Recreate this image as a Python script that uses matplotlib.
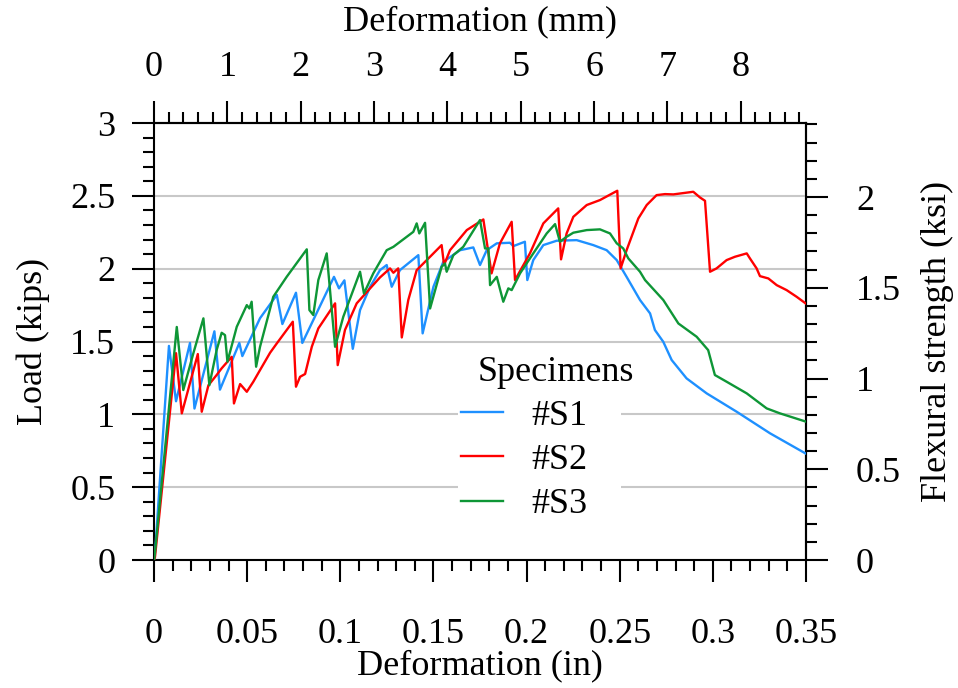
import matplotlib
matplotlib.use("Agg")
import matplotlib.pyplot as plt
from matplotlib.ticker import MultipleLocator

# load vs. deformation for three specimens (in, kips)
s1_x = [0.0, 0.0008, 0.008, 0.0118, 0.0193, 0.0217, 0.0324, 0.0354, 0.0458, 0.0474,
        0.0569, 0.0659, 0.0689, 0.0762, 0.0796, 0.0966, 0.0993, 0.1022, 0.1067, 0.1106,
        0.116, 0.1213, 0.1249, 0.1276, 0.132, 0.1419, 0.1442, 0.150, 0.1553, 0.1643,
        0.1714, 0.175, 0.1786, 0.184, 0.1911, 0.1929, 0.1991, 0.2004, 0.2036, 0.209,
        0.2162, 0.2269, 0.2358, 0.243, 0.2484, 0.2537, 0.2609, 0.2663, 0.2689, 0.2734,
        0.2779, 0.2859, 0.2967, 0.3128, 0.3307, 0.35]
s1_y = [0.02, 0.10, 1.47, 1.09, 1.49, 1.04, 1.57, 1.17, 1.49, 1.40,
        1.66, 1.82, 1.62, 1.835, 1.49, 1.944, 1.865, 1.92, 1.45, 1.716,
        1.876, 1.99, 2.025, 1.876, 1.99, 2.093, 1.556, 1.876, 2.047, 2.127,
        2.146, 2.025, 2.127, 2.174, 2.178, 2.155, 2.185, 1.922, 2.059, 2.162,
        2.192, 2.196, 2.162, 2.127, 2.059, 1.944, 1.785, 1.693, 1.579, 1.498,
        1.373, 1.247, 1.144, 1.018, 0.870, 0.73]

s2_x = [0.0, 0.0005, 0.0118, 0.0149, 0.0235, 0.0256, 0.0292, 0.0336, 0.0363, 0.0417,
        0.0429, 0.0462, 0.0498, 0.0533, 0.0569, 0.0623, 0.0659, 0.0745, 0.0762, 0.0784,
        0.0811, 0.0847, 0.0882, 0.0972, 0.0986, 0.1025, 0.1088, 0.116, 0.1213, 0.1267,
        0.1285, 0.1311, 0.133, 0.1365, 0.141, 0.1482, 0.1544, 0.1557, 0.1589, 0.1679,
        0.1768, 0.1812, 0.1857, 0.192, 0.1938, 0.2018, 0.209, 0.217, 0.2185, 0.2215,
        0.2251, 0.2323, 0.2394, 0.2487, 0.2505, 0.2537, 0.260, 0.2645, 0.2698, 0.2743,
        0.2788, 0.2895, 0.2931, 0.2958, 0.2985, 0.302, 0.3074, 0.3119, 0.3182, 0.3199,
        0.3235, 0.3253, 0.3298, 0.3343, 0.3396, 0.345, 0.35]
s2_y = [0.0, 0.02, 1.42, 1.007, 1.414, 1.018, 1.20, 1.27, 1.316, 1.395,
        1.075, 1.208, 1.155, 1.224, 1.304, 1.423, 1.487, 1.636, 1.19, 1.258,
        1.277, 1.464, 1.59, 1.762, 1.338, 1.579, 1.762, 1.865, 1.94, 2.002,
        1.972, 2.002, 1.528, 1.785, 1.99, 2.082, 2.162, 2.025, 2.127, 2.265,
        2.338, 1.968, 2.174, 2.322, 1.922, 2.105, 2.311, 2.414, 2.064, 2.242,
        2.356, 2.437, 2.471, 2.535, 2.002, 2.127, 2.345, 2.437, 2.505, 2.512,
        2.51, 2.528, 2.489, 2.466, 1.979, 2.002, 2.059, 2.082, 2.105, 2.071,
        2.002, 1.949, 1.933, 1.887, 1.853, 1.807, 1.76]

s3_x = [0.0, 0.0005, 0.0122, 0.0157, 0.0211, 0.0265, 0.0297, 0.0336, 0.0363, 0.0381,
        0.0394, 0.0444, 0.0498, 0.0512, 0.0524, 0.0548, 0.0569, 0.064, 0.0712, 0.082,
        0.0834, 0.0855, 0.0882, 0.0927, 0.0972, 0.1016, 0.1106, 0.1127, 0.1177, 0.1249,
        0.1285, 0.1392, 0.141, 0.1424, 0.1455, 0.1482, 0.1544, 0.1562, 0.1571, 0.1607,
        0.166, 0.175, 0.1777, 0.1795, 0.1804, 0.184, 0.1875, 0.1902, 0.192, 0.1965,
        0.2036, 0.2108, 0.2153, 0.2179, 0.2215, 0.2251, 0.2323, 0.2394, 0.2448, 0.2484,
        0.2519, 0.2546, 0.2609, 0.2636, 0.2734, 0.2815, 0.2913, 0.2975, 0.3011, 0.3074,
        0.3182, 0.3289, 0.336, 0.35]
s3_y = [0.0, 0.05, 1.60, 1.167, 1.419, 1.659, 1.20, 1.441, 1.56, 1.544,
        1.361, 1.601, 1.75, 1.727, 1.773, 1.327, 1.464, 1.807, 1.944, 2.133,
        1.716, 1.682, 1.922, 2.105, 1.464, 1.67, 1.979, 1.83, 1.968, 2.127,
        2.15, 2.253, 2.311, 2.242, 2.315, 1.727, 2.013, 2.036, 1.979, 2.093,
        2.15, 2.334, 2.139, 2.139, 1.887, 1.944, 1.773, 1.865, 1.853, 1.968,
        2.105, 2.242, 2.306, 2.185, 2.219, 2.247, 2.265, 2.27, 2.242, 2.174,
        2.139, 2.071, 1.979, 1.922, 1.785, 1.624, 1.533, 1.441, 1.27, 1.224,
        1.144, 1.041, 1.007, 0.95]

labels = ["#S1", "#S2", "#S3"]
colors = ["#1e90ff", "#ff0000", "#0e9636"]

KSI_PER_KIP = 0.8026   # right axis scale
MM_PER_IN = 25.4

plt.rcParams["font.family"] = ["Liberation Serif", "DejaVu Serif"]
plt.rcParams["font.size"] = 26

fig = plt.figure(figsize=(9.58, 6.88), dpi=100)
ax = fig.add_axes([0.1608, 0.186, 0.6805, 0.6352])

for xs, ys, lab, c in zip([s1_x, s2_x, s3_x], [s1_y, s2_y, s3_y], labels, colors):
    ax.plot(xs, ys, color=c, lw=1.7, label=lab, zorder=3)

ax.set_xlim(0, 0.35)
ax.set_ylim(0, 3)
ax.xaxis.set_major_locator(MultipleLocator(0.05))
ax.xaxis.set_minor_locator(MultipleLocator(0.01))
ax.yaxis.set_major_locator(MultipleLocator(0.5))
ax.yaxis.set_minor_locator(MultipleLocator(0.1))
ax.xaxis.set_major_formatter(lambda v, p: f"{v:g}")
ax.yaxis.set_major_formatter(lambda v, p: f"{v:g}")
ax.grid(axis="y", which="major", color="#c8c8c8", lw=1.5, zorder=0)
ax.set_axisbelow(True)

for s in ax.spines.values():
    s.set_linewidth(1.5)

ax.tick_params(which="major", direction="out", length=16, width=1.5)
ax.tick_params(which="minor", direction="out", length=8, width=1.5)
ax.tick_params(axis="x", which="major", pad=26)
ax.tick_params(axis="y", which="major", pad=12)

ax.set_xlabel("Deformation (in)")
ax.set_ylabel("Load (kips)")
ax.xaxis.label.set_va("center")
ax.yaxis.label.set_va("center")
ax.xaxis.set_label_coords(0.5, -0.241)
ax.yaxis.set_label_coords(-0.186, 0.5)

# top axis in mm
top = ax.secondary_xaxis("top", functions=(lambda v: v * MM_PER_IN, lambda v: v / MM_PER_IN))
top.xaxis.set_major_locator(MultipleLocator(1))
top.xaxis.set_minor_locator(MultipleLocator(0.2))
top.xaxis.set_major_formatter(lambda v, p: f"{v:g}")
top.tick_params(which="major", direction="out", length=16, width=1.5, pad=12)
top.tick_params(which="minor", direction="out", length=8, width=1.5)
top.spines["top"].set_linewidth(1.5)
top.set_xlabel("Deformation (mm)")
top.xaxis.label.set_va("center")
top.xaxis.set_label_coords(0.5, 1.232, transform=ax.transAxes)

# right axis in ksi
right = ax.secondary_yaxis("right", functions=(lambda v: v * KSI_PER_KIP, lambda v: v / KSI_PER_KIP))
right.yaxis.set_major_locator(MultipleLocator(0.5))
right.yaxis.set_minor_locator(MultipleLocator(0.1))
right.yaxis.set_major_formatter(lambda v, p: f"{v:g}")
right.tick_params(which="major", direction="out", length=16, width=1.5, pad=20)
right.tick_params(which="minor", direction="out", length=8, width=1.5)
right.spines["right"].set_linewidth(1.5)
right.set_ylabel("Flexural strength (ksi)")
right.yaxis.label.set_va("center")
right.yaxis.set_label_coords(1.201, 0.5, transform=ax.transAxes)

leg = ax.legend(title="Specimens", loc="upper left", bbox_to_anchor=(0.466, 0.4755),
                frameon=True, framealpha=1, edgecolor="none", facecolor="white",
                handlelength=1.15, handletextpad=0.8, labelspacing=0.3,
                borderpad=0.1, borderaxespad=0, fancybox=False, alignment="left")
leg.get_title().set_fontsize(26)
leg.get_title().set_x(16)   # title sits a bit right of the entries
leg.set_zorder(5)

fig.savefig("out.png", dpi=100)
